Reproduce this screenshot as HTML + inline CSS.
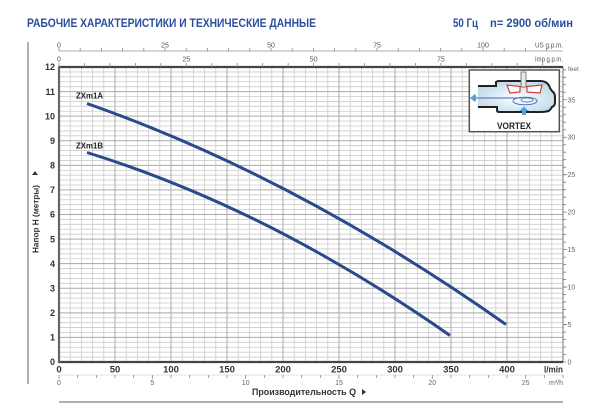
<!DOCTYPE html>
<html><head><meta charset="utf-8"><style>
html,body{margin:0;padding:0;background:#fff;}
svg{display:block;}
text{font-family:"Liberation Sans","Noto Sans CJK SC",sans-serif;}
</style></head><body>
<svg width="600" height="406" viewBox="0 0 600 406" xmlns="http://www.w3.org/2000/svg">
<defs>
<radialGradient id="pg" cx="0.5" cy="0.55" r="0.6">
<stop offset="0" stop-color="#ffffff"/><stop offset="1" stop-color="#bcd8e8"/>
</radialGradient>
</defs>
<!-- Title -->
<text x="27" y="27" font-size="11.5" font-weight="bold" fill="#2c4f9e" textLength="289" lengthAdjust="spacingAndGlyphs">РАБОЧИЕ ХАРАКТЕРИСТИКИ И ТЕХНИЧЕСКИЕ ДАННЫЕ</text>
<text x="453" y="27" font-size="11.5" font-weight="bold" fill="#2c4f9e" textLength="25" lengthAdjust="spacingAndGlyphs">50 Гц</text>
<text x="490" y="27" font-size="11.5" font-weight="bold" fill="#2c4f9e" textLength="83" lengthAdjust="spacingAndGlyphs">n= 2900 об/мин</text>

<!-- left gray bar -->
<line x1="28" y1="42" x2="28" y2="384" stroke="#b0b0b0" stroke-width="2"/>
<!-- bottom gray bar -->
<line x1="59" y1="402" x2="563" y2="402" stroke="#b0b0b0" stroke-width="2"/>

<!-- minor grid -->
<path stroke="#cccccc" stroke-width="0.8" fill="none" d="M70.2 67V362M81.4 67V362M92.6 67V362M103.8 67V362M126.2 67V362M137.4 67V362M148.6 67V362M159.8 67V362M182.2 67V362M193.4 67V362M204.6 67V362M215.8 67V362M238.2 67V362M249.4 67V362M260.6 67V362M271.8 67V362M294.2 67V362M305.4 67V362M316.6 67V362M327.8 67V362M350.2 67V362M361.4 67V362M372.6 67V362M383.8 67V362M406.2 67V362M417.4 67V362M428.6 67V362M439.8 67V362M462.2 67V362M473.4 67V362M484.6 67V362M495.8 67V362M518.2 67V362M529.4 67V362M540.6 67V362M551.8 67V362
M59 357.08H563M59 352.17H563M59 347.25H563M59 342.33H563M59 332.5H563M59 327.58H563M59 322.67H563M59 317.75H563M59 307.92H563M59 303H563M59 298.08H563M59 293.17H563M59 283.33H563M59 278.42H563M59 273.5H563M59 268.58H563M59 258.75H563M59 253.83H563M59 248.92H563M59 244H563M59 234.17H563M59 229.25H563M59 224.33H563M59 219.42H563M59 209.58H563M59 204.67H563M59 199.75H563M59 194.83H563M59 185H563M59 180.08H563M59 175.17H563M59 170.25H563M59 160.42H563M59 155.5H563M59 150.58H563M59 145.67H563M59 135.83H563M59 130.92H563M59 126H563M59 121.08H563M59 111.25H563M59 106.33H563M59 101.42H563M59 96.5H563M59 86.67H563M59 81.75H563M59 76.83H563M59 71.92H563"/>
<!-- major grid -->
<path stroke="#aaaaaa" stroke-width="1" fill="none" d="M115 67V362M171 67V362M227 67V362M283 67V362M339 67V362M395 67V362M451 67V362M507 67V362
M59 337.42H563M59 312.83H563M59 288.25H563M59 263.67H563M59 239.08H563M59 214.5H563M59 189.92H563M59 165.33H563M59 140.75H563M59 116.17H563M59 91.58H563"/>

<!-- right feet axis -->
<line x1="563" y1="67" x2="563" y2="362" stroke="#777" stroke-width="1"/>
<path stroke="#777" stroke-width="0.8" d="M563 362h3M563 354.51h3M563 347.02h3M563 339.52h3M563 332.03h3M563 324.54h4M563 317.05h3M563 309.55h3M563 302.06h3M563 294.57h3M563 287.08h4M563 279.58h3M563 272.09h3M563 264.6h3M563 257.11h3M563 249.61h4M563 242.12h3M563 234.63h3M563 227.14h3M563 219.64h3M563 212.15h4M563 204.66h3M563 197.17h3M563 189.67h3M563 182.18h3M563 174.69h4M563 167.2h3M563 159.7h3M563 152.21h3M563 144.72h3M563 137.23h4M563 129.73h3M563 122.24h3M563 114.75h3M563 107.26h3M563 99.76h4M563 92.27h3M563 84.78h3M563 77.29h3M563 69.8h3"/>
<g font-size="7" fill="#666">
<text x="567.5" y="364.5">0</text>
<text x="567.5" y="327">5</text>
<text x="567.5" y="289.6">10</text>
<text x="567.5" y="252.1">15</text>
<text x="567.5" y="214.6">20</text>
<text x="567.5" y="177.2">25</text>
<text x="567.5" y="139.7">30</text>
<text x="567.5" y="102.3">35</text>
<text x="568" y="71" font-size="6.5">feet</text>
</g>

<!-- plot borders -->
<line x1="59" y1="67" x2="563" y2="67" stroke="#444" stroke-width="2.2"/>
<line x1="59" y1="362" x2="563" y2="362" stroke="#444" stroke-width="2.2"/>
<line x1="59" y1="66" x2="59" y2="363" stroke="#666" stroke-width="2.2"/>

<!-- top US gpm axis -->
<line x1="59" y1="51" x2="563" y2="51" stroke="#999" stroke-width="0.8"/>
<path stroke="#888" stroke-width="0.8" d="M59 51v-3M80.2 51v-3M101.4 51v-3M122.6 51v-3M143.8 51v-3M165 51v-3M186.2 51v-3M207.4 51v-3M228.6 51v-3M249.8 51v-3M271 51v-3M292.2 51v-3M313.4 51v-3M334.6 51v-3M355.8 51v-3M377 51v-3M398.2 51v-3M419.4 51v-3M440.6 51v-3M461.8 51v-3M483 51v-3M504.2 51v-3M525.4 51v-3M546.6 51v-3"/>
<g font-size="7" fill="#555" text-anchor="middle">
<text x="59" y="47.5">0</text>
<text x="165" y="47.5">25</text>
<text x="271" y="47.5">50</text>
<text x="377" y="47.5">75</text>
<text x="483" y="47.5">100</text>
<text x="563" y="47.5" text-anchor="end" textLength="28" lengthAdjust="spacingAndGlyphs">US g.p.m.</text>
</g>
<!-- Imp gpm axis -->
<path stroke="#888" stroke-width="0.8" d="M59 67v-4M84.46 67v-4M109.92 67v-4M135.37 67v-4M160.83 67v-4M186.29 67v-4M211.75 67v-4M237.21 67v-4M262.66 67v-4M288.12 67v-4M313.58 67v-4M339.04 67v-4M364.5 67v-4M389.95 67v-4M415.41 67v-4M440.87 67v-4M466.33 67v-4M491.79 67v-4M517.25 67v-4M542.7 67v-4"/>
<g font-size="7" fill="#555" text-anchor="middle">
<text x="59" y="61.5">0</text>
<text x="186.3" y="61.5">25</text>
<text x="313.6" y="61.5">50</text>
<text x="440.9" y="61.5">75</text>
<text x="563" y="61.5" text-anchor="end" textLength="28" lengthAdjust="spacingAndGlyphs">Imp g.p.m.</text>
</g>

<!-- left H labels -->
<g font-size="9" font-weight="bold" fill="#333" text-anchor="end">
<text x="55" y="365">0</text>
<text x="55" y="340.6">1</text>
<text x="55" y="316">2</text>
<text x="55" y="291.5">3</text>
<text x="55" y="266.9">4</text>
<text x="55" y="242.3">5</text>
<text x="55" y="217.7">6</text>
<text x="55" y="193.1">7</text>
<text x="55" y="168.5">8</text>
<text x="55" y="144">9</text>
<text x="55" y="119.4">10</text>
<text x="55" y="94.8">11</text>
<text x="55" y="70.2">12</text>
</g>

<!-- bottom l/min labels -->
<g font-size="9.5" font-weight="bold" fill="#333" text-anchor="middle">
<text x="59" y="372.5">0</text>
<text x="115" y="372.5">50</text>
<text x="171" y="372.5">100</text>
<text x="227" y="372.5">150</text>
<text x="283" y="372.5">200</text>
<text x="339" y="372.5">250</text>
<text x="395" y="372.5">300</text>
<text x="451" y="372.5">350</text>
<text x="507" y="372.5">400</text>
<text x="563" y="372.5" text-anchor="end" textLength="19" lengthAdjust="spacingAndGlyphs">l/min</text>
</g>

<!-- m3/h axis -->
<line x1="59" y1="375" x2="563" y2="375" stroke="#c8c8c8" stroke-width="0.6"/>
<path stroke="#888" stroke-width="0.8" d="M59 375v4M77.67 375v3M96.33 375v3M115 375v3M133.67 375v3M152.33 375v4M171 375v3M189.67 375v3M208.33 375v3M227 375v3M245.67 375v4M264.33 375v3M283 375v3M301.67 375v3M320.33 375v3M339 375v4M357.67 375v3M376.33 375v3M395 375v3M413.67 375v3M432.33 375v4M451 375v3M469.67 375v3M488.33 375v3M507 375v3M525.67 375v4M544.33 375v3M563 375v3"/>
<g font-size="7" fill="#666" text-anchor="middle">
<text x="59" y="385">0</text>
<text x="152.3" y="385">5</text>
<text x="245.7" y="385">10</text>
<text x="339" y="385">15</text>
<text x="432.3" y="385">20</text>
<text x="525.7" y="385">25</text>
<text x="563" y="385" text-anchor="end">m³/h</text>
</g>

<!-- axis titles -->
<text x="252" y="395" font-size="9" font-weight="bold" fill="#333" textLength="104" lengthAdjust="spacingAndGlyphs">Производительность Q</text>
<polygon points="362,389 366,392 362,395" fill="#333"/>
<text transform="translate(38.5,253) rotate(-90)" x="0" y="0" font-size="8.5" font-weight="bold" fill="#333" textLength="68" lengthAdjust="spacingAndGlyphs">Напор H (метры)</text>
<polygon points="32,175 35,171 38,175" fill="#333"/>

<!-- curves -->
<path d="M87 103.5 Q296.5 176.9 506 324.5" stroke="#2a4a8c" stroke-width="3" fill="none"/>
<path d="M87 152.5 Q268.5 208.6 450 335.5" stroke="#2a4a8c" stroke-width="3" fill="none"/>
<text x="76" y="98.3" font-size="8.2" font-weight="bold" fill="#222" textLength="27" lengthAdjust="spacingAndGlyphs">ZXm1A</text>
<text x="76" y="148.3" font-size="8.2" font-weight="bold" fill="#222" textLength="27" lengthAdjust="spacingAndGlyphs">ZXm1B</text>

<!-- Vortex inset -->
<rect x="469.3" y="70" width="90" height="61.7" fill="#fff" stroke="#555" stroke-width="1.5"/>
<path d="M478 86 L496 86 L496 82 Q497 81 499 81 L540 81 Q548 81 550 88 L552 91 Q555 93 555 97 L555 102 Q555 106 552 107 L550 110 Q548 112 540 112 L499 112 Q497 112 497 110 L497 107 L478 107 Z" fill="url(#pg)" stroke="none"/>
<path d="M478 86 L496 86 L496 82 Q497 81 499 81 L540 81 Q548 81 550 88 L552 91 Q555 93 555 97 L555 102 Q555 106 552 107 L550 110 Q548 112 540 112 L499 112 Q497 112 497 110 L497 107 L478 107" fill="none" stroke="#222" stroke-width="2"/>
<rect x="521" y="72" width="5" height="15" fill="#e8e8e8" stroke="#666" stroke-width="0.8"/>
<polygon points="507,85 520,86.5 520,92 510,93" fill="#fff" stroke="#d43a3a" stroke-width="1.2"/>
<polygon points="527,86.5 542,85 540,93 527,92" fill="#fff" stroke="#d43a3a" stroke-width="1.2"/>
<line x1="477" y1="98" x2="521" y2="98" stroke="#3a6ab5" stroke-width="0.9"/>
<ellipse cx="525" cy="101" rx="12" ry="3.8" fill="none" stroke="#3a6ab5" stroke-width="0.9"/>
<ellipse cx="527" cy="100" rx="6" ry="2" fill="none" stroke="#3a6ab5" stroke-width="0.7"/>
<polygon points="470,98 475,94 477,98 475,102" fill="#5aa0d8"/>
<polygon points="524,106.5 528.5,111 526,111 526,115 522,115 522,111 519.5,111" fill="#5aa0d8"/>
<text x="514" y="129" font-size="8.8" font-weight="bold" fill="#222" text-anchor="middle" textLength="34" lengthAdjust="spacingAndGlyphs">VORTEX</text>
</svg>
</body></html>
